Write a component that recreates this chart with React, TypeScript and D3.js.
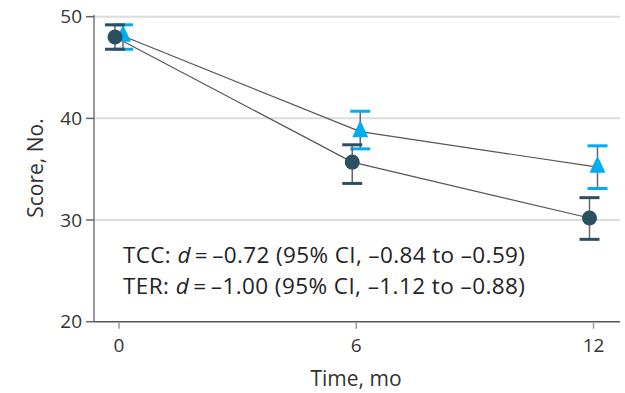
import React from "react";
import * as d3 from "d3";

const timePoints = [0, 6, 12];
const xTicks = [0, 6, 12];
const yTicks = [20, 30, 40, 50];
const gridValues = [30, 40, 50];

// circle series (dark)
const circleMean = [48.0, 35.7, 30.2];
const circleLower = [46.8, 33.6, 28.1];
const circleUpper = [49.2, 37.4, 32.2];

// triangle series (blue)
const triMean = [48.1, 38.7, 35.2];
const triLower = [46.8, 37.0, 33.1];
const triUpper = [49.2, 40.7, 37.3];

const annotations = [
  { label: "TCC", d: "–0.72", ci: "–0.84 to –0.59" },
  { label: "TER", d: "–1.00", ci: "–1.12 to –0.88" },
];

const W = 625;
const H = 393;
const FONT = "'Open Sans', 'Noto Sans', sans-serif";
const DARK = "#2c5060";
const BLUE = "#00aeef";

export default function App() {
  const x = d3.scaleLinear().domain([0, 12]).range([119, 593.5]);
  const y = d3.scaleLinear().domain([20, 50]).range([321.7, 16.7]);
  const axisX0 = 94;
  const axisX1 = 620;
  const dodge = 4;

  const circleX = (i: number) => x(timePoints[i]) - dodge;
  const triX = (i: number) => x(timePoints[i]) + dodge;

  const lineCircle = d3
    .line<number>()
    .x((_, i) => circleX(i))
    .y((v) => y(v));
  const lineTri = d3
    .line<number>()
    .x((_, i) => triX(i))
    .y((v) => y(v));

  const triPath = (cx: number, cy: number) => {
    const p = d3.path();
    p.moveTo(cx, cy - 11.3);
    p.lineTo(cx + 8, cy + 5.7);
    p.lineTo(cx - 8, cy + 5.7);
    p.closePath();
    return p.toString();
  };

  const errorBar = (
    cx: number,
    lo: number,
    hi: number,
    color: string,
    key: string
  ) => (
    <g key={key}>
      <line x1={cx} x2={cx} y1={y(hi)} y2={y(lo)} stroke="#666" strokeWidth={1.5} />
      <line x1={cx - 10} x2={cx + 10} y1={y(hi)} y2={y(hi)} stroke={color} strokeWidth={3} />
      <line x1={cx - 10} x2={cx + 10} y1={y(lo)} y2={y(lo)} stroke={color} strokeWidth={3} />
    </g>
  );

  return (
    <svg
      width={W}
      height={H}
      style={{ position: "absolute", left: 0, top: 0, background: "#fff" }}
      fontFamily={FONT}
    >
      {/* gridlines */}
      {gridValues.map((g) => (
        <line key={g} x1={axisX0} x2={axisX1} y1={y(g)} y2={y(g)} stroke="#dcdcdc" strokeWidth={2} />
      ))}
      {/* y axis */}
      <line x1={axisX0} x2={axisX0} y1={15} y2={y(20)} stroke="#777" strokeWidth={1.5} />
      {yTicks.map((t) => (
        <g key={t}>
          <line x1={86} x2={axisX0} y1={y(t)} y2={y(t)} stroke="#666" strokeWidth={1.5} />
          <text x={82} y={y(t)} dy="0.35em" textAnchor="end" fontSize={19} fill="#333">
            {t}
          </text>
        </g>
      ))}
      {/* x axis */}
      <line x1={axisX0} x2={axisX1} y1={y(20)} y2={y(20)} stroke="#555" strokeWidth={1.5} />
      {xTicks.map((t) => (
        <g key={t}>
          <line x1={x(t)} x2={x(t)} y1={y(20) + 1} y2={y(20) + 7} stroke="#999" strokeWidth={1.5} />
          <text x={x(t)} y={352} textAnchor="middle" fontSize={19} fill="#333">
            {t}
          </text>
        </g>
      ))}
      <text x={356} y={386} textAnchor="middle" fontSize={21} fill="#333">
        Time, mo
      </text>
      <text
        transform={`translate(43,168) rotate(-90)`}
        textAnchor="middle"
        fontSize={21}
        fill="#333"
      >
        Score, No.
      </text>

      {/* connecting lines */}
      <path d={lineTri(triMean) || ""} fill="none" stroke="#555" strokeWidth={1.2} />
      <path d={lineCircle(circleMean) || ""} fill="none" stroke="#555" strokeWidth={1.2} />

      {/* triangle series */}
      {triMean.map((m, i) => (
        <g key={"t" + i}>
          {errorBar(triX(i), triLower[i], triUpper[i], BLUE, "te" + i)}
          <path d={triPath(triX(i), y(m))} fill={BLUE} />
        </g>
      ))}
      {/* circle series */}
      {circleMean.map((m, i) => (
        <g key={"c" + i}>
          {errorBar(circleX(i), circleLower[i], circleUpper[i], DARK, "ce" + i)}
          <circle cx={circleX(i)} cy={y(m)} r={7.5} fill={DARK} />
        </g>
      ))}

      {/* annotations */}
      {annotations.map((a, i) => (
        <text
          key={a.label}
          x={123}
          y={263 + i * 31}
          fontSize={22.5}
          fill="#222"
          textLength={402}
          lengthAdjust="spacing"
        >
          {a.label}: <tspan fontStyle="italic">d</tspan>
          <tspan>{"\u2009=\u2009"}{a.d} (95% CI, {a.ci})</tspan>
        </text>
      ))}
    </svg>
  );
}
